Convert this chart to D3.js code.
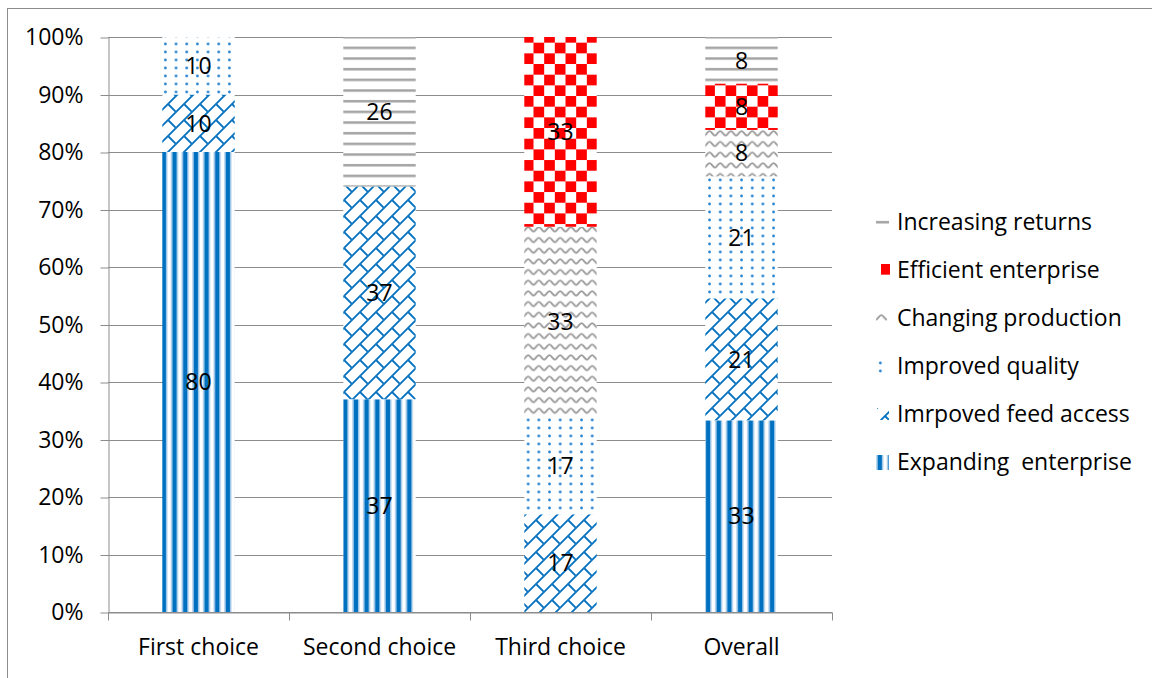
<!DOCTYPE html>
<html>
<head>
<meta charset="utf-8">
<script src="https://cdn.jsdelivr.net/npm/d3@7"></script>
<style>
  html, body { margin: 0; padding: 0; background: #fff; }
  svg { display: block; font-family: "Open Sans", sans-serif; }
  text { white-space: pre; }
</style>
</head>
<body>
<svg id="chart" width="1152" height="678"></svg>
<script>
// Survey answers per choice (percent of respondents)
const categories = ["First choice", "Second choice", "Third choice", "Overall"];
const seriesNames = ["Expanding  enterprise", "Imrpoved feed access", "Improved quality",
                     "Changing production", "Efficient enterprise", "Increasing returns"];
const expanding  = [80, 37, 0, 33];
const feedAccess = [10, 37, 17, 21];
const quality    = [10, 0, 17, 21];
const changing   = [0, 0, 33, 8];
const efficient  = [0, 0, 33, 8];
const increasing = [0, 26, 0, 8];
const yTicks = [0, 0.1, 0.2, 0.3, 0.4, 0.5, 0.6, 0.7, 0.8, 0.9, 1.0];

const seriesValues = [expanding, feedAccess, quality, changing, efficient, increasing];
const keys = ["expanding", "feed", "quality", "changing", "efficient", "increasing"];
const rows = categories.map((c, i) => {
  const r = { category: c };
  keys.forEach((k, j) => r[k] = seriesValues[j][i]);
  return r;
});

const svg = d3.select("#chart");
const plot = { left: 108, top: 37, right: 832, bottom: 612 };
const FONT = 23;

const x = d3.scaleBand().domain(categories).range([plot.left, plot.right])
  .paddingInner(0.6).paddingOuter(0.3);
const y = d3.scaleLinear().domain([0, 1]).range([plot.bottom, plot.top]);

const BLUE = "#0070c0", LBLUE = "#8cbbe3", RED = "#ff0000", GRAY = "#a0a0a0", AXIS = "#8c8c8c";
const P = 10.67;

// ---- fill patterns ----
const defs = svg.append("defs");

// vertical stripes
const pStripe = defs.append("pattern").attr("id", "p-expanding")
  .attr("patternUnits", "userSpaceOnUse").attr("width", P).attr("height", P);
pStripe.append("rect").attr("width", P).attr("height", P).attr("fill", "#fff");
pStripe.append("rect").attr("x", 0.4).attr("width", 1.4).attr("height", P).attr("fill", LBLUE);
pStripe.append("rect").attr("x", 1.8).attr("width", 4.2).attr("height", P).attr("fill", BLUE);
pStripe.append("rect").attr("x", 6.0).attr("width", 1.2).attr("height", P).attr("fill", LBLUE);

// diagonal shingles: up-right lines with staggered joints between them
const S = 16;
const pShingle = defs.append("pattern").attr("id", "p-feed")
  .attr("patternUnits", "userSpaceOnUse").attr("width", S).attr("height", S);
pShingle.append("rect").attr("width", S).attr("height", S).attr("fill", "#fff");
pShingle.append("path")
  .attr("d", `M-2,${S + 2}L${S + 2},-2 M-2,2L2,-2 M${S - 2},${S + 2}L${S + 2},${S - 2}
              M${S / 2},${S / 2}L${S},${S}`)
  .attr("stroke", BLUE).attr("stroke-width", 1.8).attr("fill", "none");

// dots
const DY = 8;
const pDots = defs.append("pattern").attr("id", "p-quality")
  .attr("patternUnits", "userSpaceOnUse").attr("width", P).attr("height", DY);
pDots.append("rect").attr("width", P).attr("height", DY).attr("fill", "#fff");
pDots.append("circle").attr("cx", P / 2).attr("cy", DY / 2).attr("r", 1.4).attr("fill", "#2a86d2");

// waves
const pWave = defs.append("pattern").attr("id", "p-changing")
  .attr("patternUnits", "userSpaceOnUse").attr("width", P).attr("height", P);
pWave.append("rect").attr("width", P).attr("height", P).attr("fill", "#fff");
pWave.append("path")
  .attr("d", `M0,7.5 C${P * 0.2},7.5 ${P * 0.3},3 ${P * 0.5},3 C${P * 0.7},3 ${P * 0.8},7.5 ${P},7.5`)
  .attr("stroke", "#9a9a9a").attr("stroke-width", 1.8).attr("fill", "none");

// checkerboard
const C = P * 2;
const pCheck = defs.append("pattern").attr("id", "p-efficient")
  .attr("patternUnits", "userSpaceOnUse").attr("width", C).attr("height", C);
pCheck.append("rect").attr("width", C).attr("height", C).attr("fill", "#fff");
pCheck.append("rect").attr("width", P).attr("height", P).attr("fill", RED);
pCheck.append("rect").attr("x", P).attr("y", P).attr("width", P).attr("height", P).attr("fill", RED);

// horizontal lines
const pHoriz = defs.append("pattern").attr("id", "p-increasing")
  .attr("patternUnits", "userSpaceOnUse").attr("width", P).attr("height", P);
pHoriz.append("rect").attr("width", P).attr("height", P).attr("fill", "#fff");
pHoriz.append("rect").attr("y", 4).attr("width", P).attr("height", 2.4).attr("fill", GRAY);

// ---- frame ----
svg.append("rect").attr("x", 7.5).attr("y", 8.5).attr("width", 1200).attr("height", 700)
  .attr("fill", "none").attr("stroke", AXIS).attr("stroke-width", 1);

// ---- gridlines ----
svg.append("g").selectAll("line").data(yTicks).join("line")
  .attr("x1", plot.left).attr("x2", plot.right)
  .attr("y1", d => Math.round(y(d)) + 0.5).attr("y2", d => Math.round(y(d)) + 0.5)
  .attr("stroke", AXIS).attr("stroke-width", 1);

// ---- stacked bars ----
const stack = d3.stack().keys(keys).offset(d3.stackOffsetExpand);
const layers = stack(rows);

const layerG = svg.append("g").selectAll("g").data(layers).join("g")
  .attr("fill", d => `url(#p-${d.key})`);
layerG.selectAll("rect").data(d => d.filter(s => s[1] - s[0] > 0)).join("rect")
  .attr("x", d => x(d.data.category))
  .attr("width", x.bandwidth())
  .attr("y", d => y(d[1]))
  .attr("height", d => y(d[0]) - y(d[1]));

// value labels
const labelG = svg.append("g");
layers.forEach(layer => {
  layer.forEach(s => {
    const v = s.data[layer.key];
    if (!v) return;
    labelG.append("text")
      .attr("x", x(s.data.category) + x.bandwidth() / 2)
      .attr("y", y((s[0] + s[1]) / 2))
      .attr("dy", "0.36em")
      .attr("text-anchor", "middle")
      .attr("font-size", FONT).attr("fill", "#000")
      .text(v);
  });
});

// ---- axes ----
const yAxis = d3.axisLeft(y).tickValues(yTicks).tickFormat(d3.format(".0%")).tickSize(8).tickSizeOuter(0);
const gy = svg.append("g").attr("transform", `translate(${plot.left + 0.5},0.5)`).call(yAxis);
gy.selectAll(".tick line").attr("stroke", AXIS);
gy.select(".domain").attr("stroke", AXIS);
gy.selectAll(".tick text").attr("font-size", FONT).attr("fill", "#000").attr("x", -25)
  .attr("font-family", "'Open Sans', sans-serif");

const xAxis = d3.axisBottom(x).tickSize(0).tickSizeOuter(0);
const gx = svg.append("g").attr("transform", `translate(0,${plot.bottom + 0.5})`).call(xAxis);
gx.select(".domain").attr("stroke", AXIS);
gx.selectAll(".tick text").attr("font-size", FONT).attr("fill", "#000").attr("dy", "0").attr("y", 42)
  .attr("font-family", "'Open Sans', sans-serif");
// category boundary ticks
const bounds = categories.map(c => x(c) - x.step() * x.paddingInner() / 2);
bounds.push(plot.right);
bounds[0] = plot.left;
gx.selectAll(".bound").data(bounds).join("line").attr("class", "bound")
  .attr("x1", d => Math.round(d) + 0.5).attr("x2", d => Math.round(d) + 0.5)
  .attr("y1", 0).attr("y2", 8).attr("stroke", AXIS);

// ---- legend ----
// each swatch shows a small crop of its series pattern
const swatch = {
  increasing: { dx: 0, dy: -5, w: 13, h: 10 },
  efficient:  { dx: 5, dy: -6, w: 9, h: 13 },
  changing:   { dx: 0, dy: -6, w: 11, h: 12 },
  quality:    { dx: -1, dy: -7, w: 9, h: 14 },
  feed:       { dx: 1, dy: -6, w: 12, h: 12 },
  expanding:  { dx: 0, dy: -7, w: 13, h: 15 }
};
const legendOrder = keys.slice().reverse();
const legendNames = seriesNames.slice().reverse();
const legend = svg.append("g");
legendOrder.forEach((k, i) => {
  const cy = 222 + i * 48;
  const sw = swatch[k];
  const g = legend.append("g").attr("transform", `translate(876,${cy})`);
  g.append("g").attr("transform", `translate(${sw.dx},${sw.dy})`)
    .append("rect").attr("width", sw.w).attr("height", sw.h)
    .attr("fill", `url(#p-${k})`);
  g.append("text").attr("x", 21).attr("y", 0).attr("dy", "0.36em")
    .attr("font-size", FONT).attr("fill", "#000").text(legendNames[i]);
});
</script>
</body>
</html>
